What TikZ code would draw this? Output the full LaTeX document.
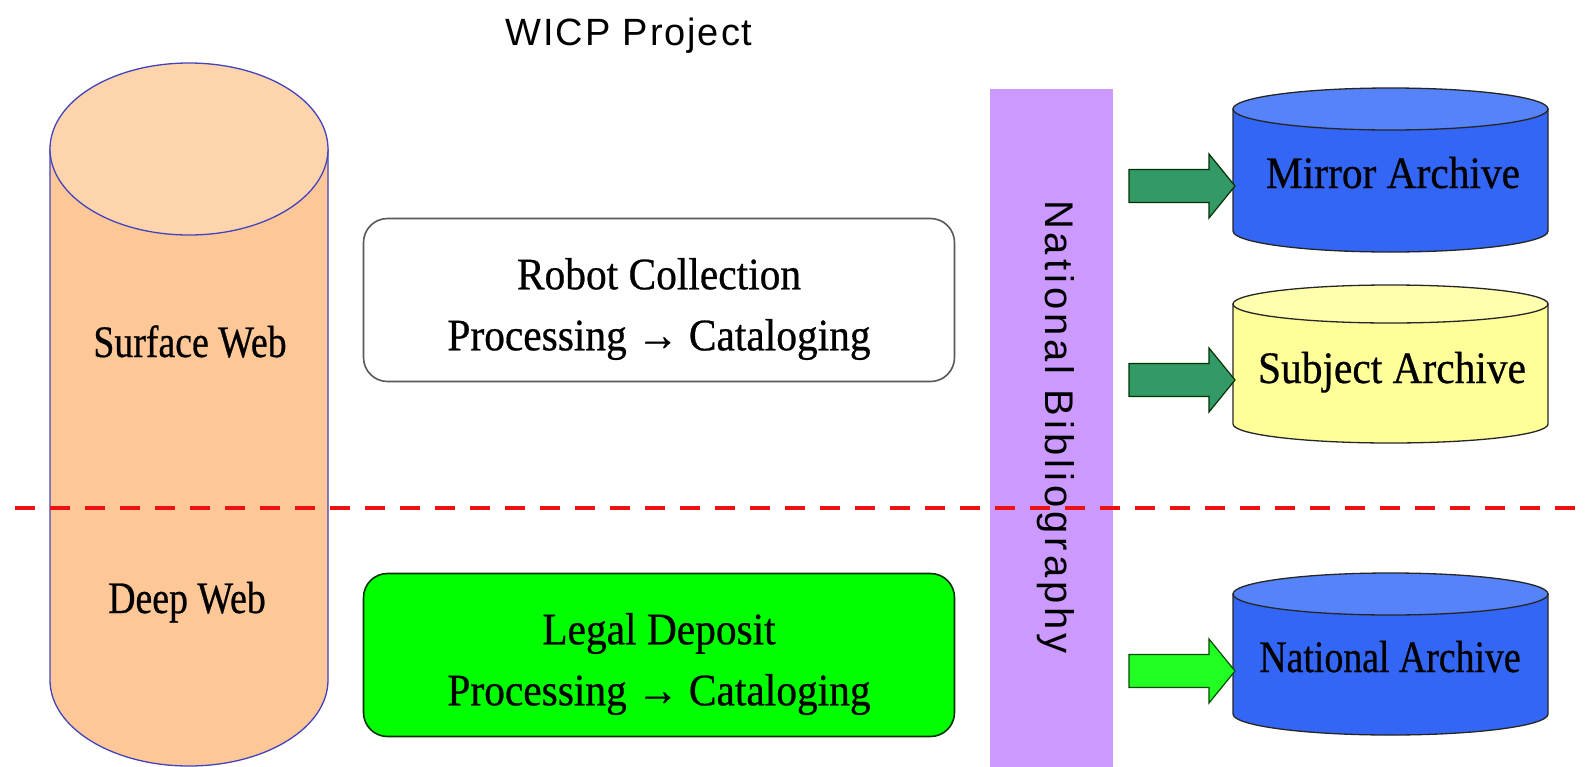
\documentclass[tikz,border=0pt]{standalone}
\usepackage{fontspec}
\setmainfont{Liberation Serif}
\newfontfamily\minc[FakeStretch=0.92,FakeBold=0.6]{Liberation Serif}
\newfontfamily\mincn[FakeStretch=0.84,FakeBold=0.6]{Liberation Serif}
\newfontfamily\goth{Liberation Sans}
\definecolor{peach}{HTML}{FDC797}
\definecolor{peachtop}{HTML}{FDD4AC}
\definecolor{cylline}{HTML}{4343BE}
\definecolor{arcblue}{HTML}{3366F5}
\definecolor{arcbluetop}{HTML}{5682FA}
\definecolor{arcyellow}{HTML}{FFFF99}
\definecolor{arcyellowtop}{HTML}{FFFFAD}
\definecolor{purplebar}{HTML}{CC99FF}
\definecolor{seagreen}{HTML}{339966}
\definecolor{brightgreen}{HTML}{22FF22}
\definecolor{legalgreen}{HTML}{00FF00}
\definecolor{dashred}{HTML}{EE1111}
\tikzset{
  blockarrow/.pic={\path[pic actions] (0,-16.5) -- (80,-16.5) -- (80,-32) -- (106,0) -- (80,32) -- (80,16.5) -- (0,16.5) -- cycle;},
  txt/.style={font=\minc\fontsize{45}{61}\selectfont, inner sep=0pt, anchor=base},
  ntxt/.style={font=\mincn\fontsize{45}{61}\selectfont, inner sep=0pt, anchor=base},
  boxtxt/.style={font=\minc\fontsize{45}{61}\selectfont, inner sep=0pt, align=center},
  procbox/.style={draw, line width=1.6pt, rounded corners=24pt, minimum width=591pt, minimum height=163pt},
  archline/.style={draw=black!85, line width=1.3pt},
}
\begin{document}
\begin{tikzpicture}[x=1pt,y=-1pt]
\useasboundingbox (0,0) rectangle (1585,766);
\fill[white] (0,0) rectangle (1585,766);
% big cylinder
\path[fill=peach, draw=cylline, line width=1.3pt] (50,149) -- (50,680) arc[start angle=180,end angle=0,x radius=139,y radius=86] -- (328,149) -- cycle;
\path[fill=peachtop, draw=cylline, line width=1.3pt] (189,149) ellipse[x radius=139, y radius=86];
% process boxes
\node[procbox, draw=black!65, fill=white] (robot) at (659,300) {};
\node[boxtxt] (robottxt) at (659,309) {Robot Collection\\Processing → Cataloging};
\node[procbox, draw=black!80!green, fill=legalgreen] (legal) at (659,655) {};
\node[boxtxt] (legaltxt) at (659,664) {Legal Deposit\\Processing → Cataloging};
% purple bar
\node[fill=purplebar, minimum width=123pt, minimum height=678pt, inner sep=0pt] (bar) at (1051.5,428) {};
% archives
\path[archline, fill=arcblue] (1233,109) -- (1233,231) arc[start angle=180,end angle=0,x radius=157.5,y radius=21] -- (1548,109) -- cycle;
\path[archline, fill=arcbluetop] (1390.5,109) ellipse[x radius=157.5, y radius=21];
\path[archline, fill=arcyellow] (1233,304) -- (1233,424) arc[start angle=180,end angle=0,x radius=157.5,y radius=19] -- (1548,304) -- cycle;
\path[archline, fill=arcyellowtop] (1390.5,304) ellipse[x radius=157.5, y radius=19];
\path[archline, fill=arcblue] (1233,594) -- (1233,714) arc[start angle=180,end angle=0,x radius=157.5,y radius=21] -- (1548,594) -- cycle;
\path[archline, fill=arcbluetop] (1390.5,594) ellipse[x radius=157.5, y radius=21];
% arrows
\pic[fill=seagreen, draw=black!80!green, line width=1.2pt] at (1129,186) {blockarrow};
\pic[fill=seagreen, draw=black!80!green, line width=1.2pt] at (1129,380) {blockarrow};
\pic[fill=brightgreen, draw=black!70!green, line width=1.2pt] at (1129,671) {blockarrow};
% red dashed separator
\coordinate (sepL) at (15,508);
\coordinate (sepR) at (1585,508);
\draw[dashred, line width=4.5pt, dash pattern=on 20pt off 15pt] (sepL) -- (sepR);
% texts
\node[font=\goth\fontsize{38}{44}\selectfont\addfontfeature{LetterSpace=5}, inner sep=0pt, anchor=base] (title) at (629,45) {WICP Project};
\node[ntxt] (surface) at (190,357) {Surface Web};
\node[ntxt] (deep) at (187,613) {Deep Web};
\node[txt] (mirror) at (1393,188) {Mirror Archive};
\node[txt] (subject) at (1392,383) {Subject Archive};
\node[ntxt] (national) at (1390,672) {National Archive};
\node[font=\goth\fontsize{40}{44}\selectfont\addfontfeature{LetterSpace=10}, rotate=-90, inner sep=0pt] (natbib) at (1056,427) {National Bibliography};
\end{tikzpicture}
\end{document}
